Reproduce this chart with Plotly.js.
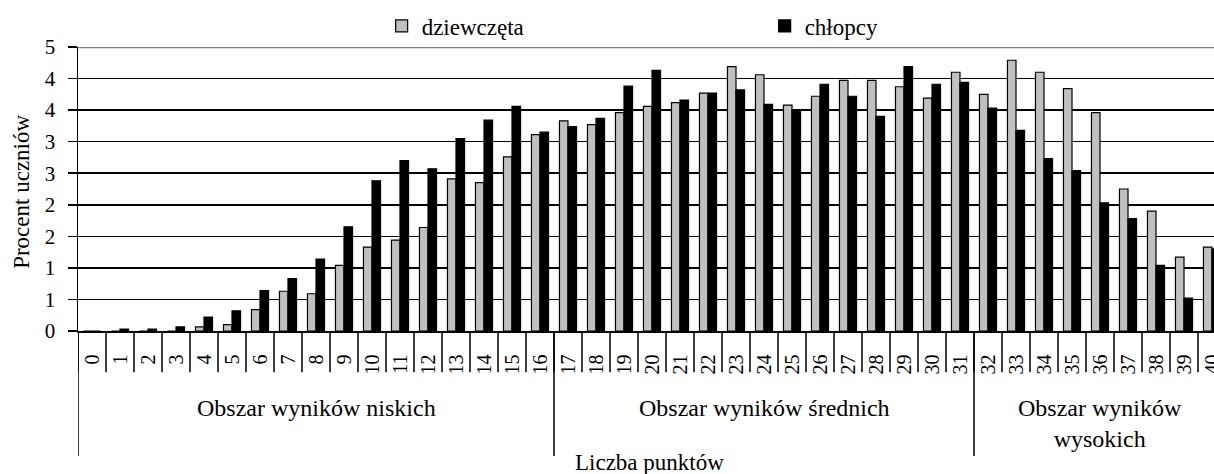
<!DOCTYPE html>
<html>
<head>
<meta charset="utf-8">
<script src="https://cdn.plot.ly/plotly-3.0.1.min.js"></script>
<style>
html,body{margin:0;padding:0;background:#fff;}
#chart{width:1214px;height:474px;}
</style>
</head>
<body>
<div id="chart"></div>
<script>
// ---- data ----
const points = [0,1,2,3,4,5,6,7,8,9,10,11,12,13,14,15,16,17,18,19,20,21,22,23,24,25,26,27,28,29,30,31,32,33,34,35,36,37,38,39,40];
const pointLabels = points.map(String);
const girls = [0,0,0,0,0.065,0.10,0.34,0.63,0.59,1.04,1.33,1.44,1.64,2.41,2.35,2.76,3.11,3.33,3.27,3.46,3.56,3.62,3.77,4.19,4.06,3.58,3.72,3.97,3.97,3.87,3.69,4.10,3.75,4.29,4.10,3.84,3.46,2.25,1.90,1.17,1.33];
const boys  = [0,0.03,0.03,0.065,0.22,0.32,0.64,0.83,1.14,1.65,2.38,2.70,2.57,3.05,3.34,3.56,3.15,3.24,3.37,3.88,4.13,3.66,3.77,3.82,3.59,3.50,3.91,3.72,3.40,4.19,3.91,3.94,3.53,3.18,2.73,2.54,2.03,1.78,1.04,0.52,1.30];
const seriesNames = ['dziewczęta','chłopcy'];
const yTickVals = [0,0.5,1,1.5,2,2.5,3,3.5,4,4.5];
const yTickText = ['0','1','1','2','2','3','3','4','4','5'];
const regions = [
  {label:'Obszar wyników niskich', from:0, to:16},
  {label:'Obszar wyników średnich', from:17, to:31},
  {label:'Obszar wyników<br>wysokich', from:32, to:40}
];
const yTitle = 'Procent uczniów';
const xTitle = 'Liczba punktów';

// ---- chart ----
const FONT = "'Liberation Serif', 'Times New Roman', serif";
const traces = [
  {type:'bar', name:seriesNames[0], x:points, y:girls,
   marker:{color:'#c0c0c0', line:{color:'#000', width:1.2}}},
  {type:'bar', name:seriesNames[1], x:points, y:boys,
   marker:{color:'#000', line:{color:'#000', width:1.2}}}
];

const shapes = [];
points.forEach(p => {
  shapes.push({type:'line', xref:'x', yref:'paper', x0:p-0.5, x1:p-0.5, y0:0, y1:-0.145,
               line:{color:'#000', width:1.5}});
});
regions.forEach(r => {
  shapes.push({type:'line', xref:'x', yref:'paper', x0:r.from-0.5, x1:r.from-0.5, y0:0, y1:-0.44,
               line:{color:'#000', width:1.5}});
});
shapes.push({type:'line', xref:'paper', yref:'y', x0:0, x1:1, y0:4.5, y1:4.5,
             line:{color:'#808080', width:2.5}});

const annotations = regions.map(r => ({
  xref:'x', yref:'paper', x:(r.from + r.to)/2, y: r.label.includes('<br>') ? -0.325 : -0.271,
  text:r.label, showarrow:false, xanchor:'center', yanchor:'middle',
  font:{family:FONT, size:24, color:'#000'}
}));
annotations.push({xref:'paper', yref:'paper', x:0.5035, y:-0.462, text:xTitle, showarrow:false,
  xanchor:'center', yanchor:'middle', font:{family:FONT, size:23, color:'#000'}});
annotations.push({xref:'paper', yref:'paper', x:-0.0493, y:0.49, text:yTitle, showarrow:false,
  textangle:-90, xanchor:'center', yanchor:'middle', font:{family:FONT, size:23, color:'#000'}});

const layout = {
  width:1214, height:474,
  margin:{l:78, r:0, t:47, b:143},
  paper_bgcolor:'#fff', plot_bgcolor:'#fff',
  font:{family:FONT, color:'#000', size:20},
  barmode:'group', bargap:0.39, bargroupgap:0,
  showlegend:true,
  legend:{orientation:'h', x:0.2673, xanchor:'left', y:1.074, yanchor:'middle',
          font:{family:FONT, size:23, color:'#000'}, entrywidth:338, entrywidthmode:'pixels',
          bgcolor:'rgba(0,0,0,0)', traceorder:'normal'},
  xaxis:{type:'linear', range:[-0.5, 40.0714], tickmode:'array', tickvals:points, ticktext:pointLabels,
         tickangle:-90, ticks:'', showgrid:false, zeroline:false, showline:true, linecolor:'#000', linewidth:1.5,
         tickfont:{family:FONT, size:20, color:'#000'}, ticklabelstandoff:14, ticklabeloverflow:'allow'},
  yaxis:{range:[0,4.5], tickmode:'array', tickvals:yTickVals, ticktext:yTickText,
         ticks:'outside', ticklen:9, tickwidth:1.5, tickcolor:'#000',
         showgrid:true, gridcolor:'#000', gridwidth:1.5, zeroline:false,
         showline:true, linecolor:'#000', linewidth:1.5,
         tickfont:{family:FONT, size:21, color:'#000'}, ticklabelstandoff:8},
  shapes:shapes,
  annotations:annotations
};

Plotly.newPlot('chart', traces, layout, {displayModeBar:false, staticPlot:true});
</script>
</body>
</html>
